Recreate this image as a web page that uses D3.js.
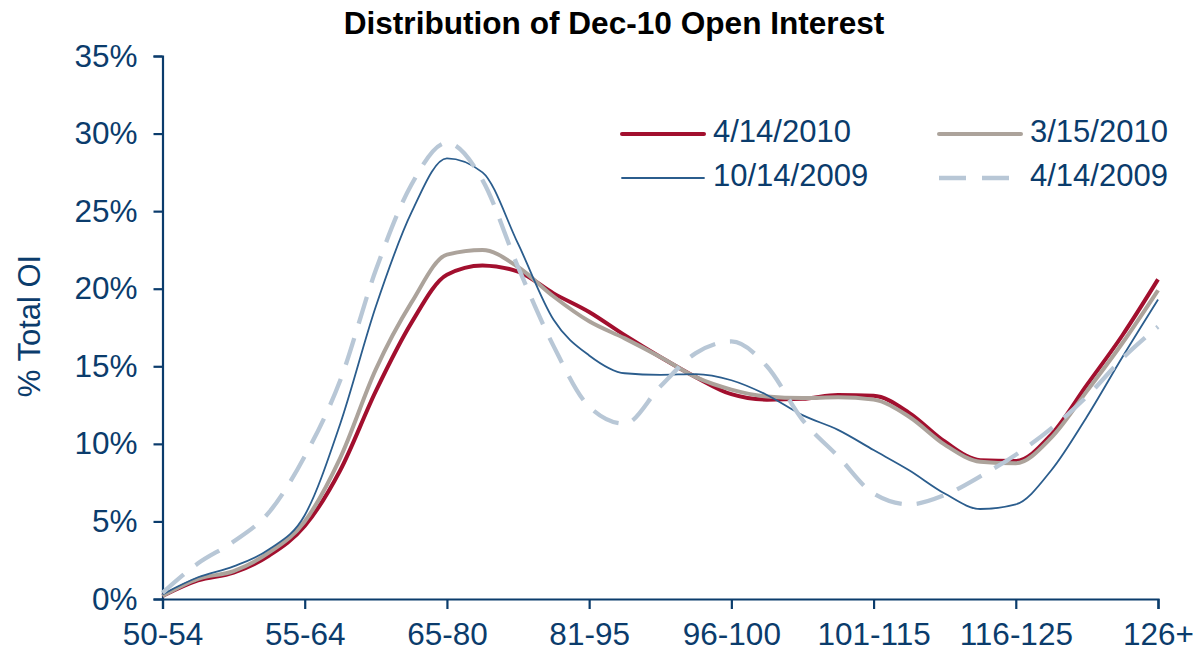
<!DOCTYPE html>
<html>
<head>
<meta charset="utf-8">
<script src="https://cdn.jsdelivr.net/npm/d3@7"></script>
<style>
  body { margin: 0; background: #fff; }
  svg { font-family: "Liberation Sans", Arial, sans-serif; }
</style>
</head>
<body>
<svg id="chart" width="1195" height="660"></svg>
<script>
// strike buckets shown on the x axis
const categories = ['50-54', '55-64', '65-80', '81-95', '96-100', '101-115', '116-125', '126+'];
// readings every quarter bucket, % of total OI
const oiApr2010 = [0.2, 1.2, 1.7, 2.8, 4.7, 8.3, 13.4, 17.8, 20.9, 21.5, 21.1, 19.7, 18.5, 17.0, 15.6, 14.3, 13.2, 12.85, 12.9, 13.15, 13.1, 12.0, 10.15, 8.95, 8.9, 10.6, 13.8, 17.0, 20.6];
const oiMar2010 = [0.2, 1.3, 1.8, 3.0, 5.0, 9.1, 14.8, 19.1, 22.2, 22.5, 21.4, 19.5, 17.9, 16.8, 15.6, 14.3, 13.5, 13.05, 12.95, 13.0, 12.85, 11.75, 9.95, 8.85, 8.75, 10.4, 13.4, 16.5, 19.9];
const oiOct2009 = [0.3, 1.4, 2.1, 3.2, 5.4, 11.3, 18.85, 24.9, 28.4, 27.5, 22.9, 18.0, 15.7, 14.55, 14.45, 14.5, 14.1, 13.15, 11.85, 10.9, 9.6, 8.3, 6.8, 5.8, 6.1, 8.3, 11.75, 15.6, 19.3];
const oiApr2009 = [0.4, 2.3, 3.7, 5.6, 9.2, 14.1, 21.2, 26.7, 29.4, 27.0, 21.4, 16.3, 12.4, 11.3, 13.7, 15.85, 16.6, 15.0, 11.55, 9.2, 6.8, 6.1, 6.7, 7.9, 9.3, 11.0, 13.05, 15.5, 17.55];
const seriesNames = ['4/14/2010', '3/15/2010', '10/14/2009', '4/14/2009'];
const yTicks = [0, 5, 10, 15, 20, 25, 30, 35];

const navy = '#0b3c6c';
const series = [
  {name: seriesNames[0], values: oiApr2010, color: '#a20f2e', width: 4, dash: null},
  {name: seriesNames[1], values: oiMar2010, color: '#aca39b', width: 4, dash: null},
  {name: seriesNames[2], values: oiOct2009, color: '#2b5d8d', width: 1.8, dash: null},
  {name: seriesNames[3], values: oiApr2009, color: '#b8c7d6', width: 4.3, dash: '28,15'}
];

const svg = d3.select('#chart');
const margin = {top: 56, right: 37, bottom: 61, left: 162.5};
const width = 1195, height = 660;

const x = d3.scaleLinear().domain([0, categories.length - 1]).range([margin.left, width - margin.right]);
const y = d3.scaleLinear().domain([0, 35]).range([height - margin.bottom, margin.top]);

// title
svg.append('text')
  .attr('x', 614).attr('y', 34)
  .attr('text-anchor', 'middle')
  .style('font-size', '31.6px').style('font-weight', 'bold').attr('fill', '#000')
  .text('Distribution of Dec-10 Open Interest');

// axes
const xAxis = d3.axisBottom(x)
  .tickValues(d3.range(categories.length))
  .tickFormat(i => categories[i])
  .tickSize(10).tickPadding(14);
const gx = svg.append('g').attr('transform', `translate(0,${y(0)})`).call(xAxis);

const yAxis = d3.axisLeft(y).tickValues(yTicks).tickFormat(d => d + '%').tickSize(9).tickPadding(16);
const gy = svg.append('g').attr('transform', `translate(${margin.left},0)`).call(yAxis);

[gx, gy].forEach(g => {
  g.select('.domain').attr('stroke', navy).attr('stroke-width', 2.2);
  g.selectAll('.tick line').attr('stroke', navy).attr('stroke-width', 2.2);
  g.selectAll('.tick text').attr('fill', navy).style('font-size', '31.5px')
    .style('font-family', '"Liberation Sans", Arial, sans-serif');
});
gx.selectAll('.tick text').attr('dy', '0.71em');

svg.append('text')
  .attr('transform', 'translate(40,326) rotate(-90)')
  .attr('text-anchor', 'middle')
  .attr('fill', navy).style('font-size', '31px')
  .text('% Total OI');

// lines
const line = d3.line()
  .x((d, i) => x(i / 4))
  .y(d => y(d))
  .curve(d3.curveMonotoneX);

svg.append('g').selectAll('path').data(series).join('path')
  .attr('d', d => line(d.values))
  .attr('fill', 'none')
  .attr('stroke', d => d.color)
  .attr('stroke-width', d => d.width)
  .attr('stroke-dasharray', d => d.dash)
  .attr('stroke-linejoin', 'round');

// legend, two columns
const legendPos = [[620, 134], [937, 134], [620, 178], [937, 178]];
const lg = svg.append('g').selectAll('g').data(series).join('g')
  .attr('transform', (d, i) => `translate(${legendPos[i][0]},${legendPos[i][1]})`);
lg.append('line')
  .attr('x1', d => d.dash ? 2 : 2).attr('x2', 84).attr('y1', 0).attr('y2', 0)
  .attr('stroke', d => d.color)
  .attr('stroke-width', d => d.width)
  .attr('stroke-dasharray', d => d.dash ? '27,16' : null)
  .attr('stroke-linecap', d => d.dash ? 'butt' : 'round');
lg.append('text')
  .attr('x', 93).attr('y', 0).attr('dy', '0.27em')
  .attr('fill', navy).style('font-size', '31px')
  .text(d => d.name);
</script>
</body>
</html>
